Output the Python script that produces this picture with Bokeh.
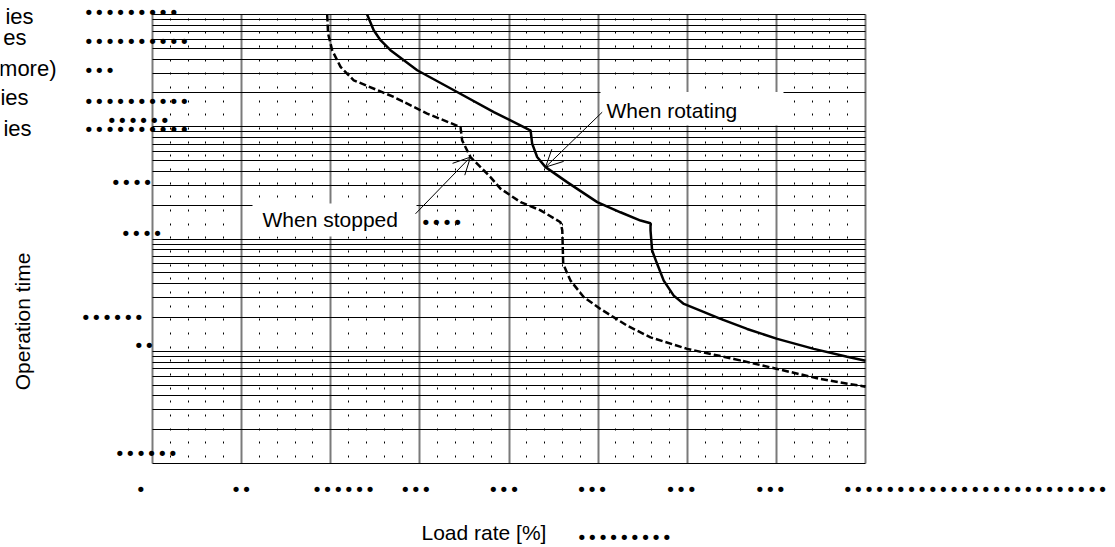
import numpy as np
from bokeh.plotting import figure
from bokeh.models import (Range1d, Label, Arrow, OpenHead, BoxAnnotation,
                          SingleIntervalTicker, FixedTicker)
from bokeh.embed import file_html
from bokeh.resources import INLINE

# ---------------- data ----------------
load_rotating = [120.4, 124.1, 127.9, 133.5, 141.0, 148.5, 170.9, 191.5, 211.1, 212.1,
                 213.0, 215.8, 220.5, 232.6, 249.5, 262.5, 273.8, 279.4, 279.4, 280.3,
                 283.1, 286.8, 292.4, 298.1, 307.4, 318.7, 333.6, 350.5, 371.0, 389.7, 400.0]
time_rotating = [10000, 7244, 5900, 4805, 3910, 3185, 2040, 1352, 942, 929,
                 707, 537, 437, 321, 213, 173, 146, 138, 119, 78.9,
                 60.1, 42.6, 31.3, 26.4, 23.0, 19.4, 15.8, 12.9, 10.5, 8.95, 8.24]

load_stopped = [98.0, 98.5, 100.8, 105.5, 112.9, 121.0, 135.4, 154.1, 172.8, 173.7,
                178.4, 189.6, 195.2, 206.5, 217.7, 228.9, 229.9, 230.4, 234.5, 242.0,
                251.3, 266.3, 279.4, 300.0, 326.1, 350.5, 374.8, 400.0]
time_stopped = [10000, 6761, 4805, 3411, 2594, 2293, 1841, 1309, 994, 756,
                537, 356, 281, 213, 180, 141, 119, 60, 42.6, 30.3,
                23.8, 16.9, 13.3, 10.5, 8.54, 6.95, 5.66, 4.83]

x_ticks = [0, 50, 100, 150, 200, 250, 300, 350, 400]
x_tick_texts = ["•", "••", "••••••", "•••", "•••", "•••", "•••", "•••", "•" * 25]

y_label_values = [10475, 5781, 3141, 1694, 1140, 948, 319, 112, 19.9, 11.2, 1.22]
y_label_texts = ["•" * 9, "•" * 10, "•" * 3, "•" * 10, "•" * 6, "•" * 10,
                 "•" * 4, "•" * 4, "•" * 6, "•" * 2, "•" * 6]

legend_texts = ["ies", "es", "more)", "ies", "ies"]

# ---------------- layout helpers (page pixel -> data) ----------------
W, H = 1115, 547
FL, FR, FT, FB = 152, 865, 14, 463   # chart area edges in page pixels
X0, X1 = 0, 400
DEC = 4


def X(px):
    return X0 + (px - FL) / (FR - FL) * (X1 - X0)


def Y(py):
    return 10 ** ((FB - py) / (FB - FT) * DEC)


p = figure(frame_width=W, frame_height=H,
           min_border_left=0, min_border_right=0, min_border_top=0, min_border_bottom=0,
           x_range=Range1d(X(0), X(W)), y_range=Range1d(Y(H), Y(0)),
           y_axis_type="log", x_axis_location=None, y_axis_location=None,
           output_backend="svg", toolbar_location=None,
           background_fill_color="white", border_fill_color="white")
p.outline_line_color = None

# grids, bounded to the chart area
xg = p.xgrid[0]
xg.ticker = SingleIntervalTicker(interval=50, num_minor_ticks=5)
xg.bounds = (X0, X1)
xg.cross_bounds = (1, 10 ** DEC)
xg.grid_line_color = "#7a7a7a"
xg.grid_line_width = 2
xg.grid_line_alpha = 1
xg.minor_grid_line_color = "black"
xg.minor_grid_line_width = 1
xg.minor_grid_line_dash = "2 12 2 12 2 11"
xg.minor_grid_line_dash_offset = 8

yg = p.ygrid[0]
yg.ticker = FixedTicker(ticks=[m * 10 ** k for k in range(DEC) for m in range(1, 10)] + [10 ** DEC])
yg.bounds = (1, 10 ** DEC)
yg.cross_bounds = (X0, X1)
yg.grid_line_color = "black"
yg.grid_line_width = 1
yg.grid_line_alpha = 1

# curves
p.line(load_rotating, time_rotating, line_color="black", line_width=2.5)
p.line(load_stopped, time_stopped, line_color="black", line_width=2.5, line_dash="7 3")

# white boxes behind annotations
p.add_layout(BoxAnnotation(left=X(600), right=X(783), top=Y(91.5), bottom=Y(125),
                           fill_color="white", fill_alpha=1, line_color=None))
p.add_layout(BoxAnnotation(left=X(252), right=X(416), top=Y(203), bottom=Y(236),
                           fill_color="white", fill_alpha=1, line_color=None))

# arrows
p.add_layout(Arrow(end=OpenHead(size=17, line_width=1, line_color="black"),
                   x_start=X(601.7), y_start=Y(111.7), x_end=load_rotating[12], y_end=time_rotating[12],
                   line_width=1, line_color="black"))
p.add_layout(Arrow(end=OpenHead(size=17, line_width=1, line_color="black"),
                   x_start=X(415), y_start=Y(213.3), x_end=load_stopped[10], y_end=time_stopped[10],
                   line_width=1, line_color="black"))

TXT = "Liberation Sans"
BUL = "DejaVu Sans"


def lab(x, y, text, font=TXT, size="21px", align="left", angle=0, baseline="middle", dx=0):
    p.add_layout(Label(x=x, y=y, text=text, text_font=font, text_font_size=size,
                       text_align=align, text_baseline=baseline, angle=angle,
                       x_offset=dx, text_color="black"))


lab(X(606), Y(110), "When rotating")
lab(X(262), Y(219), "When stopped")
lab(X(420), Y(222), "••••", font=BUL, size="18px")

# x tick labels
tick_dx = [-17, -11, -19, -20, -21, -22, -22, -22, -23]
for xv, t, dx in zip(x_ticks, x_tick_texts, tick_dx):
    lab(xv, Y(489), t, font=BUL, size="18px", dx=dx)

# y tick labels
y_label_left = [83, 83, 83, 83, 106, 83, 110, 120, 80, 133, 114]
for yv, t, lx in zip(y_label_values, y_label_texts, y_label_left):
    lab(X(lx), yv, t, font=BUL, size="18px")

# axis titles
lab(X(421), Y(532), "Load rate [%]")
lab(X(576), Y(537), "•" * 9, font=BUL, size="18px")
lab(X(22), Y(321), "Operation time", align="center", angle=np.pi / 2)

# partially visible legend text at top-left
legend_right = [33, 26, 56, 28, 31]
legend_base = [16, 37, 68, 97, 128]
for t, rx, by in zip(legend_texts, legend_right, legend_base):
    lab(X(rx), Y(by), t, size="22px", align="right", baseline="alphabetic")

open("out.html", "w").write(file_html(p, INLINE))
